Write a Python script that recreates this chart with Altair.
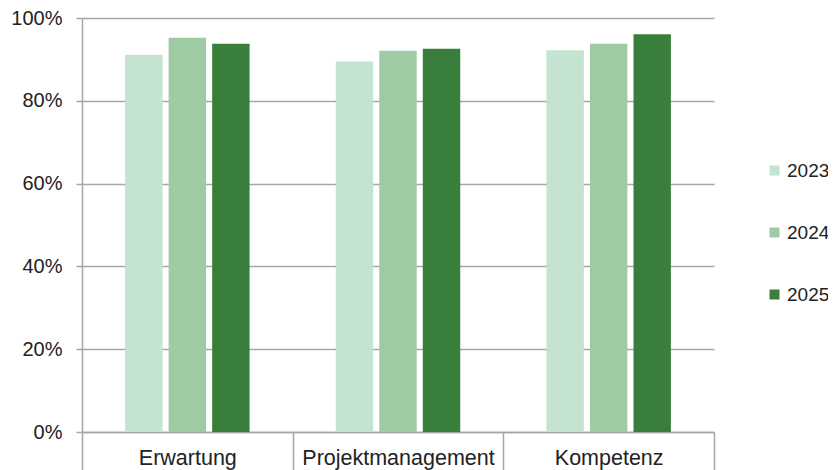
import altair as alt
import pandas as pd

categories = ["Erwartung", "Projektmanagement", "Kompetenz"]
years = ["2023", "2024", "2025"]
v2023 = [91.1, 89.5, 92.2]
v2024 = [95.2, 92.1, 93.8]
v2025 = [93.8, 92.6, 96.1]
colors = ["#c5e3d1", "#9ecba4", "#3a7e3c"]
y_ticks = [0, 0.2, 0.4, 0.6, 0.8, 1.0]

rows = []
for i, c in enumerate(categories):
    for yr, vals in zip(years, [v2023, v2024, v2025]):
        rows.append({"Kategorie": c, "Jahr": yr, "Wert": vals[i] / 100})
df = pd.DataFrame(rows)

grid = "#a6a6a6"
font = "Liberation Sans"
txt = "#222222"

chart = alt.Chart(df).mark_bar().encode(
    x=alt.X(
        "Kategorie:N", sort=categories,
        scale=alt.Scale(paddingInner=0, paddingOuter=0),
        axis=alt.Axis(title=None, labelAngle=0, labelFontSize=21.5, labelColor=txt, labelFont=font,
                      labelLimit=400, tickBand="extent", tickSize=38, tickColor=grid, tickWidth=1.5,
                      domainColor=grid, domainWidth=1.5, labelPadding=-23, grid=False),
    ),
    xOffset=alt.XOffset("Jahr:N", sort=years, scale=alt.Scale(paddingInner=0.14, paddingOuter=0.99)),
    y=alt.Y(
        "Wert:Q", scale=alt.Scale(domain=[0, 1]),
        axis=alt.Axis(title=None, format=".0%", values=y_ticks, labelFontSize=20, labelColor=txt,
                      labelFont=font, tickSize=6, tickColor=grid, tickWidth=1.5, labelPadding=14,
                      domainColor=grid, domainWidth=1.5, gridColor=grid, gridWidth=1.5),
    ),
    color=alt.Color(
        "Jahr:N", scale=alt.Scale(domain=years, range=colors),
        legend=alt.Legend(title=None, orient="none", legendX=683, legendY=143, symbolType="square",
                          symbolSize=100, labelFontSize=19, labelFont=font, labelColor=txt,
                          rowPadding=42, labelOffset=3, padding=0, symbolStrokeWidth=0),
    ),
).properties(
    width=632, height=414,
    autosize=alt.AutoSizeParams(type="none"),
    padding={"left": 74, "top": 10, "right": 114, "bottom": 40},
).configure_view(stroke=None)

chart.save("out.html", embed_options={"renderer": "svg", "actions": False})
